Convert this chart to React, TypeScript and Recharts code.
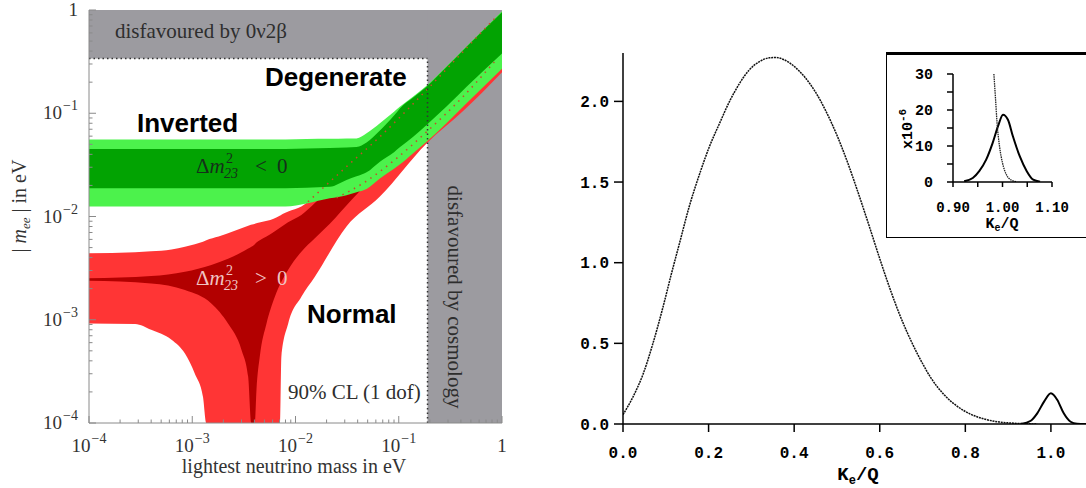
import React from "react";
import { ComposedChart, Area, Line, XAxis, YAxis } from "recharts";

// ---------- left panel: |m_ee| against the lightest neutrino mass ----------
const decadeTicks = [1e-4, 1e-3, 1e-2, 1e-1, 1];
const minorSteps = [2, 3, 4, 5, 6, 7, 8, 9];
const logTicks = [
  ...decadeTicks,
  ...decadeTicks.slice(0, 4).flatMap((d) => minorSteps.map((k) => k * d)),
].sort((a, b) => a - b);

const bbLimit = 0.34; // disfavoured by 0v2b above this
const cosmoLimit = 0.19; // disfavoured by cosmology right of this

// normal hierarchy, outer band
const lightRedMass = [1e-4, 2.8e-4, 4e-4, 6.3e-4, 8.5e-4, 1.06e-3, 1.27e-3, 1.37e-3, 1.8e-3, 3.7e-3, 7.1e-3, 7.3e-3, 8.5e-3, 0.0114, 0.0154, 0.0312, 0.0657, 0.186, 0.42, 1];
const lightRedLow = [9.2e-4, 9.1e-4, 8.0e-4, 6.4e-4, 4.7e-4, 3.0e-4, 1.8e-4, 1e-4, 1e-4, 1e-4, 1e-4, 4.4e-4, 9.2e-4, 1.67e-3, 2.61e-3, 8.0e-3, 0.0156, 0.051, 0.105, 0.25];
const lightRedHigh = [0.0044, 0.0045, 0.0046, 0.0048, 0.0051, 0.0054, 0.0057, 0.0059, 0.0064, 0.0083, 0.0102, 0.0104, 0.0112, 0.0125, 0.016, 0.0304, 0.0593, 0.168, 0.395, 0.95];

// normal hierarchy, inner band
const darkRedMass = [1e-4, 4e-4, 8.5e-4, 1.53e-3, 2.22e-3, 3.0e-3, 3.48e-3, 3.74e-3, 4.04e-3, 4.19e-3, 4.51e-3, 5.24e-3, 6.31e-3, 8.47e-3, 0.0114, 0.0154, 0.0215, 0.035, 0.0657, 0.186, 0.42, 1];
const darkRedLow = [0.00239, 0.00225, 0.00194, 0.00144, 9.2e-4, 5.1e-4, 2.8e-4, 1e-4, 1e-4, 2.1e-4, 4.4e-4, 9.2e-4, 1.67e-3, 3.03e-3, 4.56e-3, 6.15e-3, 8.5e-3, 0.0145, 0.028, 0.066, 0.145, 0.33];
const darkRedHigh = [0.00252, 0.00265, 0.00292, 0.0034, 0.0039, 0.0045, 0.0049, 0.0051, 0.0054, 0.0056, 0.0059, 0.0064, 0.0072, 0.0088, 0.01035, 0.0135, 0.019, 0.031, 0.057, 0.16, 0.38, 0.92];

// inverted hierarchy
const greenMass = [1e-4, 0.008, 0.0128, 0.0215, 0.0312, 0.039, 0.0488, 0.0657, 0.09, 0.103, 0.138, 0.186, 0.29, 0.454, 1];
const lightGreenLow = [0.0125, 0.0125, 0.0134, 0.015, 0.0161, 0.0172, 0.0185, 0.0234, 0.029, 0.032, 0.041, 0.053, 0.08, 0.125, 0.27];
const lightGreenHigh = [0.0557, 0.0557, 0.0562, 0.0565, 0.0568, 0.0571, 0.064, 0.08, 0.1035, 0.116, 0.145, 0.185, 0.285, 0.445, 0.97];
const darkGreenLow = [0.0188, 0.0188, 0.019, 0.0194, 0.0226, 0.0245, 0.0268, 0.034, 0.042, 0.047, 0.0593, 0.077, 0.116, 0.181, 0.38];
const darkGreenHigh = [0.045, 0.045, 0.0455, 0.046, 0.0465, 0.047, 0.052, 0.068, 0.095, 0.112, 0.142, 0.181, 0.28, 0.44, 0.95];

// normal-hierarchy edges seen through the inverted band
const upperDotMass = [0.0132, 0.0312, 0.0657, 0.186, 0.42, 0.88];
const upperDot = [0.0139, 0.0304, 0.0593, 0.168, 0.395, 0.86];
const lowerDotMass = [0.025, 0.0452, 0.0953, 0.186, 0.42, 0.88];
const lowerDot = [0.0152, 0.021, 0.0366, 0.066, 0.145, 0.33];

// ---------- right panel: electron spectrum ----------
const kTicks = [0, 0.2, 0.4, 0.6, 0.8, 1.0];
const rateTicks = [0, 0.5, 1.0, 1.5, 2.0];
const spectrumX = [0, 0.023, 0.047, 0.07, 0.093, 0.113, 0.132, 0.155, 0.179, 0.202, 0.225, 0.249, 0.272, 0.295, 0.318, 0.342, 0.357, 0.375, 0.4, 0.425, 0.45, 0.475, 0.5, 0.525, 0.55, 0.575, 0.6, 0.625, 0.65, 0.675, 0.7, 0.72, 0.751, 0.782, 0.813, 0.844, 0.875, 0.906, 0.937, 0.968];
const spectrumY = [0.058, 0.166, 0.31, 0.5, 0.72, 0.93, 1.12, 1.35, 1.55, 1.72, 1.86, 2.0, 2.11, 2.195, 2.245, 2.27, 2.272, 2.26, 2.217, 2.15, 2.057, 1.935, 1.79, 1.62, 1.43, 1.23, 1.025, 0.83, 0.655, 0.505, 0.375, 0.284, 0.18, 0.108, 0.06, 0.031, 0.014, 0.006, 0.002, 0];
const peakX = [0.93, 0.953, 0.968, 0.984, 1.0, 1.015, 1.03, 1.046, 1.061, 1.082];
const peakY = [0, 0.02, 0.066, 0.139, 0.19, 0.149, 0.066, 0.014, 0.002, 0];

// inset (units of 1e-6)
const insetXTicks = [0.9, 0.95, 1.0, 1.05, 1.1];
const insetXLabels = ["0.90", "", "1.00", "", "1.10"];
const insetYTicks = [0, 5, 10, 15, 20, 25, 30];
const insetYLabels = ["0", "", "10", "", "20", "", "30"];
const insetPeakX = [0.9225, 0.94, 0.953, 0.967, 0.98, 0.991, 1.001, 1.011, 1.021, 1.035, 1.049, 1.062, 1.076];
const insetPeakY = [0.2, 1.1, 3.0, 6.2, 10.8, 15.5, 18.7, 17.3, 12.7, 7.1, 3.0, 0.65, 0.1];
const insetTailX = [0.9826, 0.986, 0.989, 0.994, 1.0, 1.008, 1.018, 1.028];
const insetTailY = [30, 22.9, 16.4, 9.9, 5.3, 2.0, 0.5, 0.1];

const band = (ms: number[], lo: number[], hi: number[]) => ms.map((m, i) => ({ m, band: [lo[i], hi[i]] }));
const pts = (ms: number[], vs: number[]) => ms.map((m, i) => ({ m, v: vs[i] }));
const xy = (xs: number[], ys: number[]) => xs.map((x, i) => ({ x, y: ys[i] }));

const SERIF = "Liberation Serif, Times New Roman, serif";
const SANS = "Liberation Sans, Arial, sans-serif";
const MONO = "Liberation Mono, Courier New, monospace";
const FRAME = "#8a8a8a";

function LogTick(props: any) {
  const { x, y, payload, side } = props;
  const p = Math.log10(payload.value);
  const e = Math.round(p);
  const major = Math.abs(p - e) < 1e-6;
  const len = major ? 7 : 3.5;
  const dx = side === "left" ? len : side === "right" ? -len : 0;
  const dy = side === "bottom" ? -len : side === "top" ? len : 0;
  let label = null;
  if (major && (side === "bottom" || side === "left")) {
    const content =
      e === 0
        ? "1"
        : [
            <tspan key="b">10</tspan>,
            <tspan key="e" dy={-9} dx={1} fontSize={14}>{"\u2212" + -e}</tspan>,
          ];
    label =
      side === "bottom" ? (
        <text x={x} y={y + 29} textAnchor="middle" fontFamily={SERIF} fontSize={19} fill="#333">{content}</text>
      ) : (
        <text x={x - 11} y={y + 6} textAnchor="end" fontFamily={SERIF} fontSize={19} fill="#333">{content}</text>
      );
  }
  return (
    <g>
      <line x1={x} y1={y} x2={x + dx} y2={y + dy} stroke={FRAME} strokeWidth={1} />
      {label}
    </g>
  );
}

const logAxis = {
  type: "number" as const,
  scale: "log" as const,
  domain: [1e-4, 1],
  allowDataOverflow: true,
  ticks: logTicks,
  interval: 0 as const,
  tickSize: 0,
  tickMargin: 0,
  tickLine: false,
  axisLine: { stroke: FRAME, strokeWidth: 1 },
};

function NeutrinoMassPlot() {
  return (
    <ComposedChart width={520} height={488} margin={{ top: 10, right: 18, bottom: 35, left: 9 }}>
      <XAxis {...logAxis} dataKey="m" height={30} tick={(p: any) => <LogTick {...p} side="bottom" />} />
      <XAxis {...logAxis} xAxisId="top" orientation="top" height={0} tick={(p: any) => <LogTick {...p} side="top" />} />
      <YAxis {...logAxis} width={80} tick={(p: any) => <LogTick {...p} side="left" />} />
      <YAxis {...logAxis} yAxisId="right" orientation="right" width={0} tick={(p: any) => <LogTick {...p} side="right" />} />

      <Area data={band([1e-4, 1], [bbLimit, bbLimit], [1, 1])} dataKey="band" type="linear" stroke="none" fill="#9c9ba0" fillOpacity={1} isAnimationActive={false} />
      <Area data={band([cosmoLimit, 1], [1e-4, 1e-4], [1, 1])} dataKey="band" type="linear" stroke="none" fill="#9c9ba0" fillOpacity={1} isAnimationActive={false} />

      <Area data={band(lightRedMass, lightRedLow, lightRedHigh)} dataKey="band" type="monotone" stroke="none" fill="#ff3535" fillOpacity={1} isAnimationActive={false} />
      <Area data={band(darkRedMass, darkRedLow, darkRedHigh)} dataKey="band" type="monotone" stroke="none" fill="#b20000" fillOpacity={1} isAnimationActive={false} />
      <Area data={band(greenMass, lightGreenLow, lightGreenHigh)} dataKey="band" type="monotone" stroke="none" fill="#4cf24c" fillOpacity={1} isAnimationActive={false} />
      <Area data={band(greenMass, darkGreenLow, darkGreenHigh)} dataKey="band" type="monotone" stroke="none" fill="#02a302" fillOpacity={1} isAnimationActive={false} />

      <Line data={pts(upperDotMass, upperDot)} dataKey="v" type="monotone" stroke="#c0502a" strokeWidth={1.5} strokeDasharray="1.5 5" dot={false} isAnimationActive={false} />
      <Line data={pts(lowerDotMass, lowerDot)} dataKey="v" type="monotone" stroke="#c0502a" strokeWidth={1.5} strokeDasharray="1.5 5" dot={false} isAnimationActive={false} />

      <Line data={pts([1e-4, cosmoLimit], [bbLimit, bbLimit])} dataKey="v" type="linear" stroke="#333" strokeWidth={1.5} strokeDasharray="1.5 3" dot={false} isAnimationActive={false} />
      <Line data={pts([cosmoLimit, cosmoLimit], [1e-4, bbLimit])} dataKey="v" type="linear" stroke="#333" strokeWidth={1.5} strokeDasharray="1.5 3" dot={false} isAnimationActive={false} />
    </ComposedChart>
  );
}

const monoTick = (size: number) => ({ fill: "#000", fontSize: size, fontFamily: MONO, fontWeight: "bold" as const });
const blackLine = { stroke: "#000", strokeWidth: 1.5 };

function SpectrumPlot() {
  return (
    <ComposedChart width={546} height={488} margin={{ top: 53, right: 0, bottom: 24, left: 0 }}>
      <XAxis type="number" dataKey="x" domain={[0, 1.082]} allowDataOverflow ticks={kTicks} interval={0}
        tickFormatter={(v: number) => v.toFixed(1)} tickSize={8} tickMargin={15} height={40}
        axisLine={blackLine} tickLine={blackLine} tick={monoTick(16)} />
      <XAxis xAxisId="top" orientation="top" type="number" domain={[0, 1.082]} allowDataOverflow height={0}
        tick={false} tickLine={false} axisLine={blackLine} />
      <YAxis type="number" domain={[0, 2.3]} allowDataOverflow ticks={rateTicks} interval={0}
        tickFormatter={(v: number) => v.toFixed(1)} width={83} tickSize={9} tickMargin={5}
        axisLine={blackLine} tickLine={blackLine} tick={monoTick(16)} />
      <Line data={xy(spectrumX, spectrumY)} dataKey="y" type="monotone" stroke="#111" strokeWidth={1.5}
        strokeDasharray="2 0.8" dot={false} isAnimationActive={false} />
      <Line data={xy(peakX, peakY)} dataKey="y" type="monotone" stroke="#000" strokeWidth={2}
        dot={false} isAnimationActive={false} />
    </ComposedChart>
  );
}

function InsetPlot() {
  return (
    <ComposedChart width={198} height={181} margin={{ top: 19, right: 33, bottom: 0, left: 0 }}>
      <XAxis type="number" dataKey="x" domain={[0.9, 1.1]} allowDataOverflow ticks={insetXTicks} interval={0}
        tickFormatter={(_v: number, i: number) => insetXLabels[i]} tickSize={5} tickMargin={15} height={54}
        axisLine={blackLine} tickLine={blackLine} tick={monoTick(14)} />
      <YAxis type="number" domain={[0, 30]} allowDataOverflow ticks={insetYTicks} interval={0}
        tickFormatter={(_v: number, i: number) => insetYLabels[i]} width={66} tickSize={6} tickMargin={14}
        axisLine={blackLine} tickLine={blackLine} tick={monoTick(15)} />
      <Line data={xy(insetPeakX, insetPeakY)} dataKey="y" type="monotone" stroke="#000" strokeWidth={2}
        dot={false} isAnimationActive={false} />
      <Line data={xy(insetTailX, insetTailY)} dataKey="y" type="monotone" stroke="#222" strokeWidth={1.3}
        strokeDasharray="1.5 0.8" dot={false} isAnimationActive={false} />
    </ComposedChart>
  );
}

function Annotations() {
  const grayText = { fontFamily: SERIF, fontSize: 21, fill: "#2e2e2e" };
  const bold = { fontFamily: SANS, fontSize: 26, fontWeight: "bold" as const, fill: "#000" };
  const mono = { fontFamily: MONO, fontWeight: "bold" as const, fill: "#000" };
  return (
    <svg width={1086} height={488} style={{ position: "absolute", left: 0, top: 0, pointerEvents: "none" }}>
      <text x={115} y={38} {...grayText}>disfavoured by 0ν2β</text>
      <text transform="translate(448,297) rotate(90)" textAnchor="middle" {...grayText}>disfavoured by cosmology</text>
      <text x={288} y={399} {...grayText}>90% CL (1 dof)</text>
      <text x={265} y={86} {...bold}>Degenerate</text>
      <text x={137} y={132} {...bold}>Inverted</text>
      <text x={307} y={323} {...bold}>Normal</text>

      <g fontFamily={SERIF} fill="#15301a">
        <text x={196} y={173} fontSize={21}>Δ<tspan fontStyle="italic">m</tspan></text>
        <text x={226} y={163} fontSize={14}>2</text>
        <text x={224} y={178} fontSize={14} fontStyle="italic">23</text>
        <text x={255} y={173} fontSize={21}>&lt;</text>
        <text x={277} y={173} fontSize={21}>0</text>
      </g>
      <g fontFamily={SERIF} fill="#f0c4c4">
        <text x={196} y={285} fontSize={21}>Δ<tspan fontStyle="italic">m</tspan></text>
        <text x={226} y={275} fontSize={14}>2</text>
        <text x={224} y={290} fontSize={14} fontStyle="italic">23</text>
        <text x={255} y={285} fontSize={21}>&gt;</text>
        <text x={277} y={285} fontSize={21}>0</text>
      </g>

      <text x={294} y={473} textAnchor="middle" fontFamily={SERIF} fontSize={20} fill="#333">lightest neutrino mass in eV</text>
      <text transform="translate(26,206) rotate(-90)" textAnchor="middle" fontFamily={SERIF} fontSize={20} fill="#333">
        | <tspan fontStyle="italic">m</tspan>
        <tspan fontStyle="italic" fontSize={13} dy={4}>ee</tspan>
        <tspan dy={-4}> | in eV</tspan>
      </text>

      <text x={858} y={480} textAnchor="middle" fontSize={19} {...mono}>
        K<tspan fontSize={12} dy={4}>e</tspan><tspan dy={-4}>/Q</tspan>
      </text>
      <text x={1002} y={228} textAnchor="middle" fontSize={15} {...mono}>
        K<tspan fontSize={10} dy={3}>e</tspan><tspan dy={-3}>/Q</tspan>
      </text>
      <text transform="translate(912,129) rotate(-90)" textAnchor="middle" fontSize={15} {...mono}>
        x10<tspan fontSize={11} dy={-6}>-6</tspan>
      </text>
    </svg>
  );
}

export default function App() {
  return (
    <div style={{ position: "relative", width: 1086, height: 488, background: "#fff", overflow: "hidden" }}>
      <style>{"body{margin:0}"}</style>
      <div style={{ position: "absolute", left: 0, top: 0 }}>
        <NeutrinoMassPlot />
      </div>
      <div style={{ position: "absolute", left: 540, top: 0 }}>
        <SpectrumPlot />
      </div>
      <div
        style={{
          position: "absolute",
          left: 886,
          top: 52,
          width: 200,
          height: 186,
          boxSizing: "border-box",
          background: "#fff",
          borderLeft: "1.5px solid #000",
          borderBottom: "1.5px solid #000",
          borderTop: "3px solid #000",
        }}
      >
        <InsetPlot />
      </div>
      <Annotations />
    </div>
  );
}
